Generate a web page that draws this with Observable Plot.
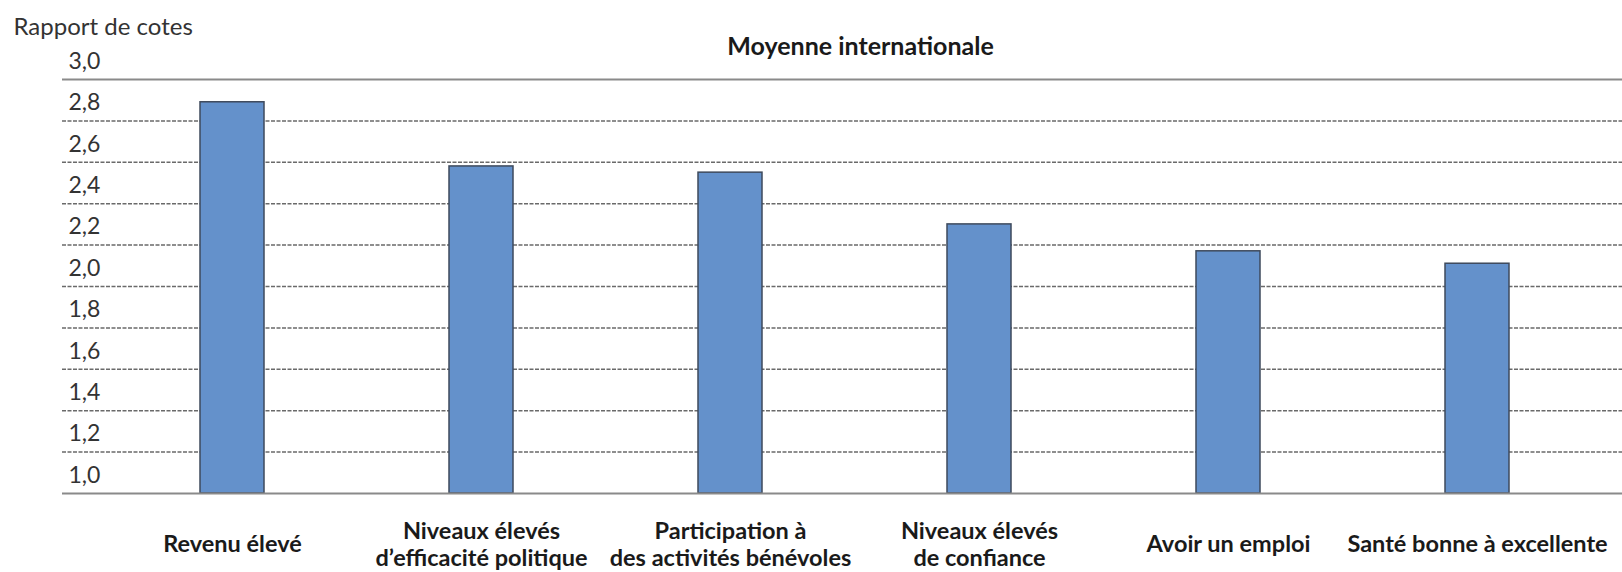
<!DOCTYPE html>
<html>
<head>
<meta charset="utf-8">
<script src="https://cdn.jsdelivr.net/npm/d3@7"></script>
<script src="https://cdn.jsdelivr.net/npm/@observablehq/plot@0.6"></script>
<style>
  html, body { margin: 0; padding: 0; background: #fff; }
  #chart svg { display: block; }
</style>
</head>
<body>
<div id="chart"></div>
<script>
const categories = [
  "Revenu élevé",
  "Niveaux élevés\nd’efficacité politique",
  "Participation à\ndes activités bénévoles",
  "Niveaux élevés\nde confiance",
  "Avoir un emploi",
  "Santé bonne à excellente"
];
const values = [2.89, 2.58, 2.55, 2.30, 2.17, 2.11];
const gridTicks = [1.2, 1.4, 1.6, 1.8, 2.0, 2.2, 2.4, 2.6, 2.8];
const solidTicks = [1.0, 3.0];
const tickValues = [1.0, 1.2, 1.4, 1.6, 1.8, 2.0, 2.2, 2.4, 2.6, 2.8, 3.0];
const tickLabels = ["1,0", "1,2", "1,4", "1,6", "1,8", "2,0", "2,2", "2,4", "2,6", "2,8", "3,0"];
const title = "Moyenne internationale";
const yLabel = "Rapport de cotes";

const data = categories.map((c, i) => ({ cat: c, value: values[i] }));
const ticks = tickValues.map((v, i) => ({ v, label: tickLabels[i] }));

const font = "Lato, 'Noto Sans', sans-serif";

const chart = Plot.plot({
  width: 1622,
  height: 572,
  marginLeft: 62,
  marginRight: 0,
  marginTop: 79,
  marginBottom: 79,
  style: { fontFamily: font, background: "#fff" },
  x: { type: "band", domain: categories, paddingInner: 0.743, paddingOuter: 0.3715, insetLeft: 45, insetRight: 20, axis: null },
  y: { domain: [1, 3], axis: null },
  marks: [
    Plot.ruleY(gridTicks, { stroke: "#6a6a6a", strokeWidth: 1.5, strokeDasharray: "4,1.5" }),
    Plot.barY(data, { x: "cat", y1: 1, y2: "value", fill: "#6491CB", stroke: "#3E4A5C", strokeWidth: 1.5 }),
    Plot.ruleY(solidTicks, { stroke: "#8a8a8a", strokeWidth: 2 }),
    Plot.text(ticks, { y: "v", text: "label", frameAnchor: "left", textAnchor: "start", lineAnchor: "middle", dx: 6, dy: -18, fontSize: 23, fill: "#333" }),
    Plot.text(data, { x: "cat", text: "cat", frameAnchor: "bottom", lineAnchor: "middle", dy: 50, fontSize: 23.5, fontWeight: "bold", fill: "#1a1a1a", lineHeight: 1.15 }),
    Plot.text([title], { frameAnchor: "top", lineAnchor: "middle", dx: 18, dy: -33, fontSize: 25, fontWeight: "bold", fill: "#1a1a1a" }),
    Plot.text([yLabel], { frameAnchor: "top-left", textAnchor: "start", lineAnchor: "middle", dx: -49, dy: -52, fontSize: 24, fill: "#333" })
  ]
});
document.getElementById("chart").appendChild(chart);
</script>
</body>
</html>
